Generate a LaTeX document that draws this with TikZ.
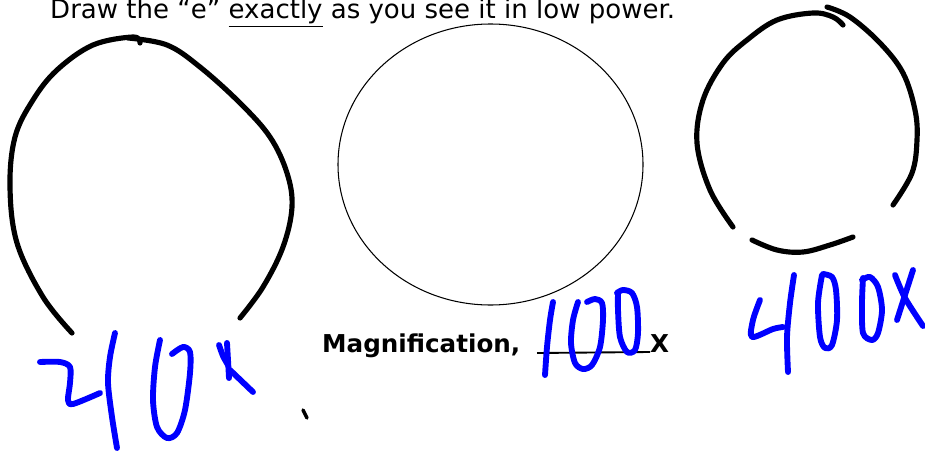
\documentclass[tikz,border=0pt]{standalone}
\usepackage{fontspec}
\setmainfont{DejaVu Sans}
\usetikzlibrary{positioning}

\begin{document}
\begin{tikzpicture}[
  x=0.03cm, y=-0.03cm,
  pen/.style={line width=4.4pt,line cap=round,line join=round},
  ink/.style={blue,line width=5pt,line cap=round,line join=round},
  sheet/.style={font=\fontsize{22.2}{24}\selectfont,inner sep=0pt},
  bold/.style={font=\fontsize{21}{24}\selectfont\bfseries,inner sep=0pt}
]
\useasboundingbox (0,0) rectangle (925,451);

% printed part of the sheet
\node[sheet,anchor=base west] (title) at (50,19)
  {Draw the “e” \underline{exactly} as you see it in low power.};
\draw[line width=0.9pt] (490.5,164.5) ellipse (152.5 and 140.5);
\node[bold,anchor=base west] (mag) at (322,352) {Magnification,};
\node[bold,anchor=base west] (xx) at (650,352) {X};
\coordinate (blank) at (537,353);
\draw[line width=1.6pt] (blank) -- (xx.base west);

% hand drawn circles
\draw[pen] plot[smooth,tension=0.6] coordinates {(72,333) (43,297) (17,243) (10,187)
  (15,137) (33,100) (57,70) (93,45) (133,37) (140,43)};
\draw[pen] plot[smooth,tension=0.6] coordinates {(128,38) (167,45) (200,67) (240,103)
  (270,137) (287,173) (292,207) (283,247) (263,287) (240,318)};
\draw[pen] plot[smooth,tension=0.6] coordinates {(733,227) (710,190) (697,143)
  (703,100) (723,63) (747,40) (777,20) (813,13) (833,17) (843,25)};
\draw[pen] plot[smooth,tension=0.6] coordinates {(827,7) (850,17) (880,43) (903,73)
  (915,110) (917,140) (912,173) (893,205)};
\draw[pen] plot[smooth,tension=0.6] coordinates {(752,240) (777,250) (803,252)
  (830,245) (853,237)};
\draw[line width=3pt,line cap=round] (303,410) -- (307,418);

% 210x
\draw[ink] plot[smooth,tension=0.5] coordinates {(40,362) (60,362) (70,367) (70,383)
  (68,400) (73,404) (100,393)};
\draw[ink] plot[smooth] coordinates {(115,333) (110,357) (108,383) (112,417) (117,448)};
\draw[ink] plot[smooth] coordinates {(160,340) (155,367) (153,400) (157,427) (167,438)
  (177,433) (185,410) (190,373) (190,352) (183,347) (172,354)};
\draw[ink] plot[smooth] coordinates {(219,345) (223,356) (228,365)};
\draw[ink] plot[smooth] coordinates {(227,343) (228,360) (229,378)};
\draw[ink] (230,370) -- (253,392);

% 100
\draw[ink] plot[smooth] coordinates {(553,302) (550,320) (547,347) (545,375)};
\draw[ink] plot[smooth] coordinates {(578,302) (573,320) (571,343) (575,363) (583,369)
  (592,365) (600,347) (603,320) (602,303) (595,299) (587,302)};
\draw[ink] plot[smooth] coordinates {(618,292) (618,310) (620,337) (627,352) (635,350)
  (638,333) (637,307) (632,293) (623,290) (617,293)};

% 400x
\draw[ink] plot[smooth,tension=0.5] coordinates {(760,300) (753,320) (752,337) (773,329)
  (783,327)};
\draw[ink] plot[smooth] coordinates {(794,275) (790,303) (787,337) (788,372)};
\draw[ink] plot[smooth] coordinates {(822,275) (818,303) (820,337) (825,348) (832,345)
  (837,320) (836,290) (832,277) (823,274)};
\draw[ink] plot[smooth] coordinates {(863,278) (862,303) (863,333) (872,340) (878,333)
  (882,310) (878,287) (870,277) (862,280)};
\draw[ink] plot[smooth] coordinates {(895,275) (905,298) (923,326)};
\draw[ink] plot[smooth] coordinates {(913,270) (905,295) (897,320)};
\end{tikzpicture}
\end{document}
